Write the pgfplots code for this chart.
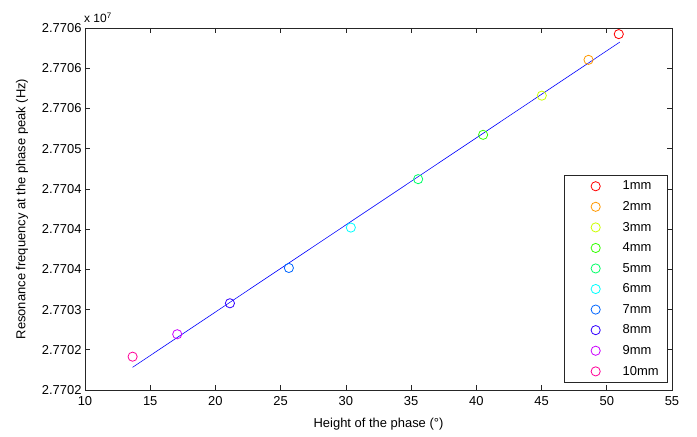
\documentclass[border=0pt]{standalone}
\usepackage{pgfplots}
\pgfplotsset{compat=1.18}
\usepackage{fontspec}
\setmainfont{Liberation Sans}
% MATLAB hsv(10) colours
\definecolor{c1}{rgb}{1,0,0}
\definecolor{c2}{rgb}{1,0.6,0}
\definecolor{c3}{rgb}{0.8,1,0}
\definecolor{c4}{rgb}{0.2,1,0}
\definecolor{c5}{rgb}{0,1,0.4}
\definecolor{c6}{rgb}{0,1,1}
\definecolor{c7}{rgb}{0,0.4,1}
\definecolor{c8}{rgb}{0.2,0,1}
\definecolor{c9}{rgb}{0.8,0,1}
\definecolor{c10}{rgb}{1,0,0.6}
\begin{document}
\begin{tikzpicture}[font=\fontsize{13}{15}\selectfont]
% y values: resonance frequency in Hz above 27\,702\,000 Hz (2.7702 x 10^7)
\begin{axis}[
  name=ax,
  scale only axis,
  width=587bp, height=362bp,
  xmin=10, xmax=55, ymin=0, ymax=4500,
  xtick={10,15,...,55},
  ytick={0,500,...,4500},
  yticklabels={2.7702,2.7702,2.7703,2.7704,2.7704,2.7704,2.7705,2.7706,2.7706,2.7706},
  /pgf/number format/assume math mode=true,
  tick align=inside,
  xtick pos=both, ytick pos=both,
  major tick length=5bp,
  axis line style={black!85, line width=0.7bp},
  every tick/.style={black!85, line width=0.7bp},
  xticklabel style={yshift=-3bp},
  xlabel={Height of the phase (°)},
  xlabel style={yshift=-6bp},
  ylabel={Resonance frequency at the phase peak (Hz)},
  ylabel style={yshift=7bp},
  legend cell align=left,
  legend style={at={(rel axis cs:1,0)}, anchor=south east, xshift=-4bp, yshift=7bp,
    draw=black!85, line width=0.7bp, row sep=6.1bp, inner xsep=7bp, inner ysep=4bp,
    font=\fontsize{13}{15}\selectfont},
  legend image code/.code={\path[draw=none] (0bp,0bp) -- (49bp,0bp); \draw[#1, only marks] plot coordinates {(24bp,0bp)};},
  every axis plot/.append style={mark=o, mark size=4.6bp, line width=0.8bp},
  clip=false,
]
\addplot[c1, only marks] coordinates {(50.92,4424)};
\addlegendentry{1mm}
\addplot[c2, only marks] coordinates {(48.60,4104)};
\addlegendentry{2mm}
\addplot[c3, only marks] coordinates {(45.02,3659)};
\addlegendentry{3mm}
\addplot[c4, only marks] coordinates {(40.52,3172)};
\addlegendentry{4mm}
\addplot[c5, only marks] coordinates {(35.54,2621)};
\addlegendentry{5mm}
\addplot[c6, only marks] coordinates {(30.38,2019)};
\addlegendentry{6mm}
\addplot[c7, only marks] coordinates {(25.63,1517)};
\addlegendentry{7mm}
\addplot[c8, only marks] coordinates {(21.11,1078)};
\addlegendentry{8mm}
\addplot[c9, only marks] coordinates {(17.07,693)};
\addlegendentry{9mm}
\addplot[c10, only marks] coordinates {(13.65,414)};
\addlegendentry{10mm}
\addplot[blue, no marks, line width=0.6bp, forget plot] coordinates {(13.65,282) (51.0,4325)};
\node[anchor=south west, inner sep=0pt, xshift=-1bp, yshift=5bp] at (rel axis cs:0,1) {\fontsize{12}{14}\selectfont x 10\textsuperscript{7}};
\end{axis}
\path ([xshift=-85bp,yshift=-47bp]ax.south west) rectangle ([xshift=25bp,yshift=28bp]ax.north east);
\end{tikzpicture}
\end{document}
